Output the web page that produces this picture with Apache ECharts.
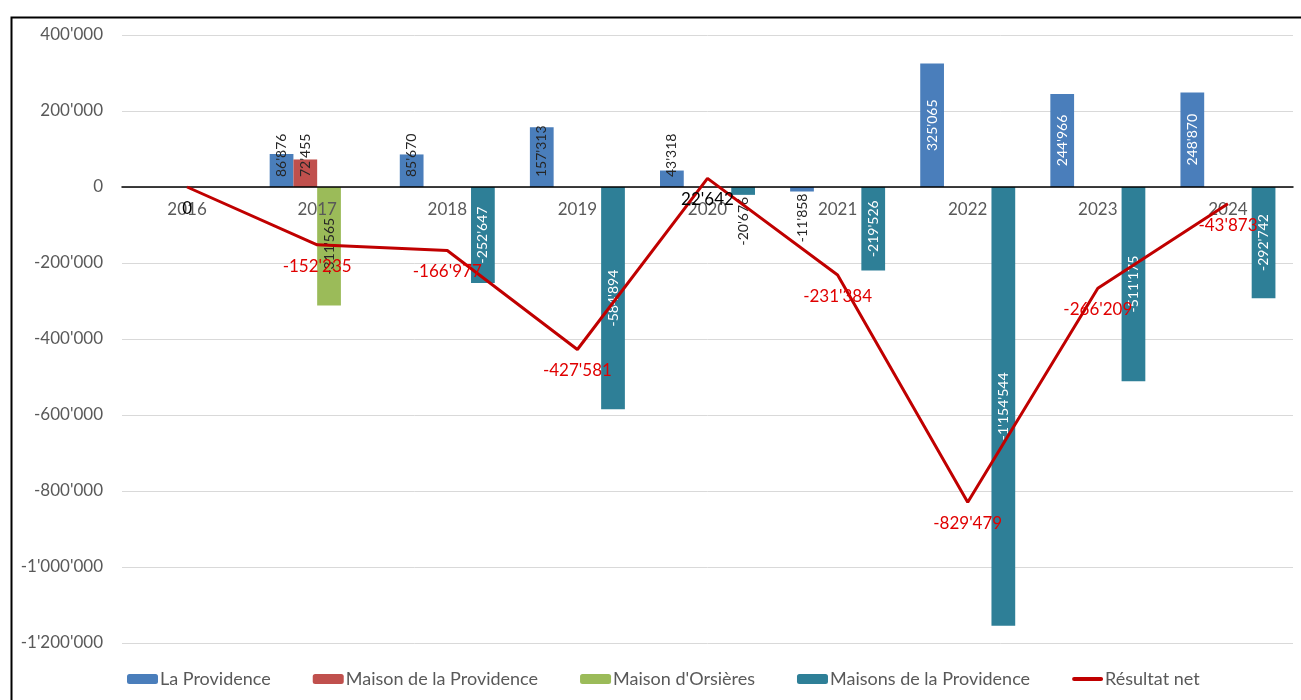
<!DOCTYPE html>
<html>
<head>
<meta charset="utf-8">
<title>Résultat net 2016-2024</title>
<script src="https://cdn.jsdelivr.net/npm/echarts@6/dist/echarts.min.js"></script>
<style>
  html, body { margin: 0; padding: 0; background: #ffffff; }
  #chart { width: 1301px; height: 700px; }
</style>
</head>
<body>
<div id="chart"></div>
<script>
// Years on the category axis
const years = ['2016', '2017', '2018', '2019', '2020', '2021', '2022', '2023', '2024'];

// Result per entity (CHF)
const laProvidence = [null, 86876, 85670, 157313, 43318, -11858, 325065, 244966, 248870];
const maisonDeLaProvidence = [null, 72455, null, null, null, null, null, null, null];
const maisonOrsieres = [null, -311565, null, null, null, null, null, null, null];
const maisonsDeLaProvidence = [null, null, -252647, -584894, -20676, -219526, -1154544, -511175, -292742];

// Consolidated net result
const resultatNet = [0, -152235, -166977, -427581, 22642, -231384, -829479, -266209, -43873];

// Value axis ticks
const yTicks = [-1200000, -1000000, -800000, -600000, -400000, -200000, 0, 200000, 400000];

const FONT = 'Lato, "Open Sans", sans-serif';

// Plot area
const GRID = { left: 122, right: 8, top: 35, bottom: 57 };
const PLOT_HEIGHT = 700 - GRID.top - GRID.bottom;
const Y_MIN = yTicks[0];
const Y_MAX = yTicks[yTicks.length - 1];
// Lift the category axis (line + year labels) up to the zero line
const X_AXIS_OFFSET = -PLOT_HEIGHT * (0 - Y_MIN) / (Y_MAX - Y_MIN);

// Swiss-style thousands separator: 1'154'544
function fmt(v) {
  const neg = v < 0;
  const s = Math.abs(Math.round(v)).toString().replace(/\B(?=(\d{3})+(?!\d))/g, "'");
  return (neg ? '-' : '') + s;
}

// Bar label placement: long bars get the label centred inside,
// short bars get it anchored at the base (positive) or just below (negative).
function barData(values, insideColor, smallColor) {
  return values.map(function (v) {
    if (v === null) return null;
    const big = Math.abs(v) >= 170000;
    let label;
    if (big) {
      label = { position: 'inside', color: insideColor };
    } else if (v >= 0) {
      label = { position: 'insideBottom', distance: 10, align: 'left', verticalAlign: 'middle', color: smallColor };
    } else {
      label = { position: 'bottom', distance: 2, align: 'right', verticalAlign: 'middle', color: smallColor };
    }
    return { value: v, label: label };
  });
}

function barSeries(name, values, color, insideColor, smallColor) {
  return {
    name: name,
    type: 'bar',
    barGap: '0%',
    barCategoryGap: '27%',
    itemStyle: { color: color },
    label: {
      show: true,
      rotate: 90,
      fontFamily: FONT,
      fontSize: 14,
      formatter: function (p) { return fmt(p.value); }
    },
    labelLayout: { hideOverlap: false },
    data: barData(values, insideColor, smallColor),
    z: 2
  };
}

const chart = echarts.init(document.getElementById('chart'), null, { renderer: 'canvas' });

const option = {
  backgroundColor: '#ffffff',
  animation: false,
  textStyle: { fontFamily: FONT },
  grid: { left: GRID.left, right: GRID.right, top: GRID.top, bottom: GRID.bottom, containLabel: false },
  graphic: [{
    type: 'rect',
    left: 9, top: 15,
    shape: { width: 1310, height: 700 },
    style: { fill: 'none', stroke: '#000000', lineWidth: 2 },
    silent: true
  }],
  legend: {
    left: 127,
    top: 670,
    padding: 0,
    itemWidth: 31,
    itemHeight: 10,
    itemGap: 42,
    textStyle: { fontFamily: FONT, fontSize: 18, color: '#595959', padding: [0, 0, 0, -3] },
    data: [
      'La Providence',
      'Maison de la Providence',
      "Maison d'Orsières",
      'Maisons de la Providence',
      { name: 'Résultat net', icon: 'path://M2,0 L29,0 A2,2 0 0 1 29,4 L2,4 A2,2 0 0 1 2,0 Z' }
    ]
  },
  xAxis: {
    type: 'category',
    data: years,
    offset: X_AXIS_OFFSET,
    z: 4,
    axisLine: { onZero: false, lineStyle: { color: '#000000', width: 1.5 } },
    axisTick: { show: false },
    axisLabel: { color: '#595959', fontSize: 17, fontFamily: FONT, margin: 14 },
    splitLine: { show: false }
  },
  yAxis: {
    type: 'value',
    min: Y_MIN,
    max: Y_MAX,
    interval: 200000,
    axisLine: { show: false },
    axisTick: { show: false },
    axisLabel: {
      color: '#595959', fontSize: 17, fontFamily: FONT, margin: 19,
      formatter: function (v) { return fmt(v); }
    },
    splitLine: { lineStyle: { color: '#d9d9d9', width: 1 } }
  },
  series: [
    barSeries('La Providence', laProvidence, '#4a7ebb', '#ffffff', '#262626'),
    barSeries('Maison de la Providence', maisonDeLaProvidence, '#c0504d', '#ffffff', '#262626'),
    barSeries("Maison d'Orsières", maisonOrsieres, '#9bbb59', '#262626', '#262626'),
    barSeries('Maisons de la Providence', maisonsDeLaProvidence, '#2e7f97', '#ffffff', '#262626'),
    {
      name: 'Résultat net',
      type: 'line',
      z: 5,
      symbol: 'circle',
      symbolSize: 0,
      showSymbol: true,
      itemStyle: { color: '#c00000' },
      lineStyle: { color: '#c00000', width: 3 },
      label: {
        show: true,
        position: 'bottom',
        distance: 13,
        fontFamily: FONT,
        fontSize: 17,
        formatter: function (p) { return fmt(p.value); }
      },
      labelLayout: { hideOverlap: false },
      data: resultatNet.map(function (v) {
        return { value: v, label: { color: v < 0 ? '#e00000' : '#000000' } };
      })
    }
  ]
};

chart.setOption(option);
</script>
</body>
</html>
